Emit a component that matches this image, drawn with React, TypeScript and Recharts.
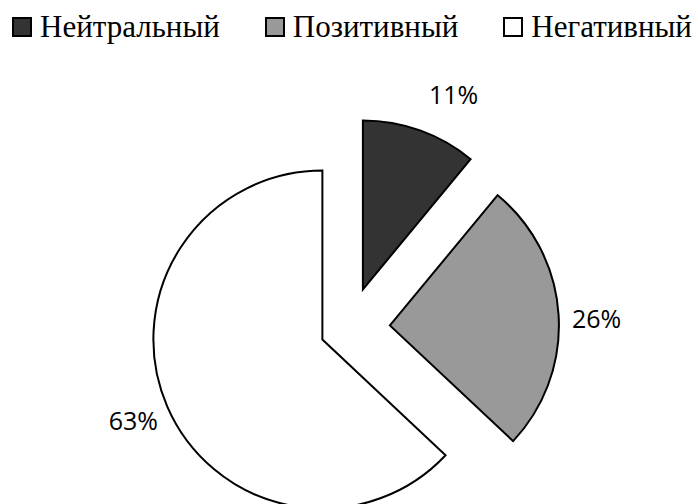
import React from 'react';
import { PieChart, Pie, Cell, Sector, Legend } from 'recharts';

const categories = ['Нейтральный', 'Позитивный', 'Негативный'];
const shares = [11, 26, 63];

const colors = ['#333333', '#999999', '#ffffff'];
const explode = [41, 41, 29];
const labelNudge = [[21, -2], [1, 6], [0, -1]];

const data = categories.map((name, i) => ({ name, value: shares[i] }));

const RAD = Math.PI / 180;

const ExplodedSector = (props: any) => {
  const i = categories.indexOf(props.name);
  const d = explode[i] ?? 0;
  const a = -props.midAngle * RAD;
  return (
    <Sector
      cx={props.cx + d * Math.cos(a)}
      cy={props.cy + d * Math.sin(a)}
      innerRadius={props.innerRadius}
      outerRadius={props.outerRadius}
      startAngle={props.startAngle}
      endAngle={props.endAngle}
      fill={colors[i]}
      stroke="#000"
      strokeWidth={2}
      strokeLinejoin="miter"
    />
  );
};

const renderLabel = (props: any) => {
  const i = categories.indexOf(props.name);
  const d = explode[i] ?? 0;
  const a = -props.midAngle * RAD;
  const r = props.outerRadius + 37 + d;
  const x = props.cx + r * Math.cos(a) + labelNudge[i][0];
  const y = props.cy + r * Math.sin(a) + labelNudge[i][1];
  return (
    <text
      x={x}
      y={y}
      textAnchor="middle"
      dominantBaseline="central"
      fontFamily="'Open Sans', sans-serif"
      fontSize={25}
      fill="#000"
    >
      {`${props.value}%`}
    </text>
  );
};

const legendFont = '"Liberation Serif", "Times New Roman", Times, serif';

const LegendContent = () => (
  <div
    style={{
      display: 'flex',
      alignItems: 'flex-start',
      paddingLeft: 12,
      paddingTop: 11,
      color: '#000',
      whiteSpace: 'nowrap',
    }}
  >
    {categories.map((c, i) => (
      <div key={c} style={{ display: 'flex', alignItems: 'flex-start', marginRight: 45 }}>
        <span
          style={{
            display: 'inline-block',
            width: 20,
            height: 20,
            boxSizing: 'border-box',
            border: '2px solid #000',
            background: colors[i],
            marginTop: 6,
            marginRight: 8,
          }}
        />
        <span style={{ fontFamily: legendFont, fontSize: 31, lineHeight: '31px' }}>{c}</span>
      </div>
    ))}
  </div>
);

export default function App() {
  return (
    <div style={{ position: 'absolute', left: 0, top: 0, width: 698, height: 504, background: '#fff' }}>
      <PieChart width={698} height={504} margin={{ top: 0, right: 0, bottom: 0, left: 0 }}>
        <Legend
          verticalAlign="top"
          align="left"
          height={50}
          content={<LegendContent />}
          wrapperStyle={{ top: 0, left: 0, width: 698, height: 50 }}
        />
        <Pie
          data={data}
          dataKey="value"
          nameKey="name"
          cx={349}
          cy={278}
          outerRadius={169}
          startAngle={90}
          endAngle={-270}
          stroke="#000"
          strokeWidth={2}
          isAnimationActive={false}
          shape={ExplodedSector}
          label={renderLabel}
          labelLine={false}
        >
          {data.map((d, i) => (
            <Cell key={d.name} fill={colors[i]} />
          ))}
        </Pie>
      </PieChart>
    </div>
  );
}
